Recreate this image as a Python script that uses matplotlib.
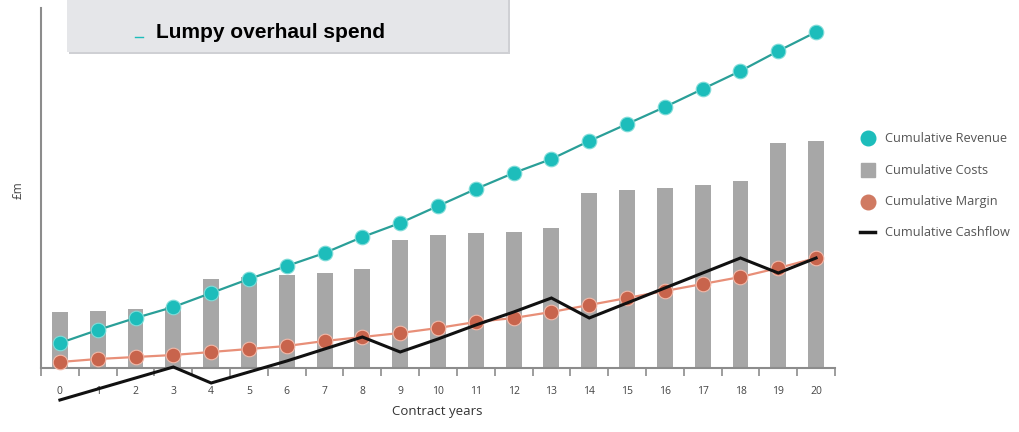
"""Lumpy overhaul spend: cumulative revenue, costs, margin and cashflow over a contract."""

import matplotlib

matplotlib.use("Agg")
import matplotlib.pyplot as plt
from matplotlib.lines import Line2D
from matplotlib.patches import Rectangle
from matplotlib.ticker import FixedLocator

years = list(range(21))
revenue = [25, 38, 50, 61, 75, 89, 102, 115, 131, 145, 162, 179, 195, 209, 227, 244, 261, 279, 297, 317, 336]
costs = [56, 57, 59, 61, 89, 91, 93, 95, 99, 128, 133, 135, 136, 140, 175, 178, 180, 183, 187, 225, 227]
margin = [6, 9, 11, 13, 16, 19, 22, 27, 31, 35, 40, 46, 50, 56, 63, 70, 77, 84, 91, 100, 110]
cashflow = [-32, -21, -10, 1, -15, -4, 7, 19, 31, 16, 29, 43, 56, 70, 50, 65, 80, 95, 110, 95, 110]

TEAL = "#1dbdbb"
TEAL_LINE = "#2a9f98"
BAR = "#a7a7a7"
RUST = "#c8644c"
RUST_LINE = "#e88f78"
W, H = 1020, 432


def fx(px):
    return px / W


def fy(py):
    return 1 - py / H


fig = plt.figure(figsize=(W / 100, H / 100), dpi=100)
fig.patch.set_facecolor("white")

ax = fig.add_axes([fx(41), fy(410), 794 / W, 402 / H])
ax.set_xlim(-0.5, 20.5)
ax.set_ylim(-42, 360)

ax.bar(years, costs, width=0.42, color=BAR, zorder=1)
ax.plot(years, revenue, color=TEAL_LINE, lw=1.6, marker="o", ms=10.5,
        mfc=TEAL, mec="#7fdcd8", mew=0.8, zorder=4)
ax.plot(years, margin, color=RUST_LINE, lw=1.6, marker="o", ms=10.5,
        mfc=RUST, mec="#f2b8a8", mew=0.8, zorder=3)
ax.plot(years, cashflow, color="#111111", lw=2.2, zorder=3.5, solid_joinstyle="miter")

for side in ("top", "right"):
    ax.spines[side].set_visible(False)
ax.spines["left"].set_bounds(0, 360)
ax.spines["bottom"].set_position(("data", 0))
for side in ("left", "bottom"):
    ax.spines[side].set_color("#8c8c8c")
    ax.spines[side].set_linewidth(1.5)

ax.set_yticks([])
ax.set_xticks(years)
ax.set_xticklabels([str(y) for y in years], fontsize=7.5, color="#444444", family="Open Sans")
ax.tick_params(axis="x", which="major", length=0, pad=13)
ax.xaxis.set_minor_locator(FixedLocator([y - 0.5 for y in years] + [20.5]))
ax.tick_params(axis="x", which="minor", length=6, width=1.2, color="#8c8c8c", direction="out")

fig.text(fx(437), fy(412), "Contract years", ha="center", va="center",
         fontsize=9.5, color="#333333", family="Open Sans")
fig.text(fx(18), fy(190), "£m", ha="center", va="center", rotation=90,
         fontsize=8.5, color="#444444", family="Open Sans")

# header box with a soft drop shadow
fig.add_artist(Rectangle((fx(69), fy(54)), (508 - 67) / W, 54 / H, transform=fig.transFigure,
                         facecolor="#cfd0d4", edgecolor="none", zorder=5))
fig.add_artist(Rectangle((fx(67), fy(52)), (508 - 67) / W, 52 / H, transform=fig.transFigure,
                         facecolor="#e5e6e9", edgecolor="none", zorder=6))
fig.add_artist(Line2D([fx(135), fx(143)], [fy(37), fy(37)], transform=fig.transFigure,
                      color=TEAL, lw=1, zorder=7))
fig.text(fx(156), fy(33), "Lumpy overhaul spend", ha="left", va="center",
         fontsize=15, fontweight="bold", color="black", family="Liberation Sans", zorder=7)

# legend, drawn entry by entry
entries = [
    ("Cumulative Revenue", dict(marker="o", ms=10.5, mfc=TEAL, mec=TEAL, ls="none")),
    ("Cumulative Costs", dict(marker="s", ms=10, mfc=BAR, mec=BAR, ls="none")),
    ("Cumulative Margin", dict(marker="o", ms=10.5, mfc="#d07a62", mec="#d07a62", ls="none")),
    ("Cumulative Cashflow", dict(color="#111111", lw=2.5)),
]
rows = [138, 170, 202, 232]
for (label, style), row in zip(entries, rows):
    if style.get("ls") == "none":
        fig.add_artist(Line2D([fx(868)], [fy(row)], transform=fig.transFigure, **style))
    else:
        fig.add_artist(Line2D([fx(860), fx(875)], [fy(row), fy(row)], transform=fig.transFigure, **style))
    fig.text(fx(885), fy(row), label, ha="left", va="center", fontsize=9.2,
             color="#555555", family="Open Sans")

fig.savefig("out.png", dpi=100)
